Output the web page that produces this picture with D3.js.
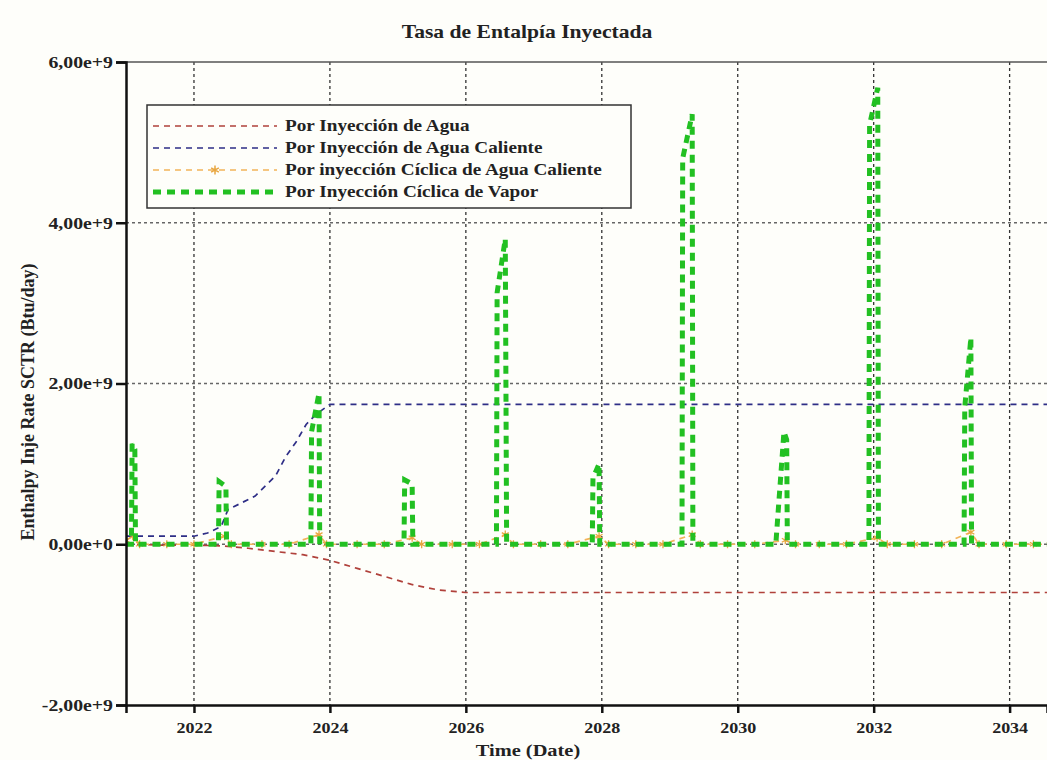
<!DOCTYPE html>
<html>
<head>
<meta charset="utf-8">
<script src="https://cdn.jsdelivr.net/npm/d3@7"></script>
<style>
  body { margin: 0; background: #fefefa; }
  svg { display: block; }
  text { font-family: "Liberation Serif", "Times New Roman", serif; font-weight: bold; fill: #222; }
</style>
</head>
<body>
<div id="chart"></div>
<script>
// SVG wrapper dimensions
var svgWidth = 1047;
var svgHeight = 760;

var margin = { top: 62, right: 0, bottom: 55, left: 126 };
var width = svgWidth - margin.left - margin.right;
var height = svgHeight - margin.top - margin.bottom;

// horizontal stretch of the text in the reference
var sx = 1.2;

// tick labels
var yTicks = [-2e9, 0, 2e9, 4e9, 6e9];
var yTickLabels = ["-2,00e+9", "0,00e+0", "2,00e+9", "4,00e+9", "6,00e+9"];
var xTicks = [2022, 2024, 2026, 2028, 2030, 2032, 2034];

// series: [decimal year, value in 1e9 Btu/day]
var agua = [[2021.0, 0], [2021.5, -0.01], [2022.0, -0.01], [2022.4, -0.02], [2022.8, -0.05],
  [2023.2, -0.09], [2023.6, -0.13], [2024.0, -0.2], [2024.4, -0.3], [2024.8, -0.4],
  [2025.2, -0.5], [2025.6, -0.57], [2026.0, -0.6], [2027.0, -0.6], [2034.6, -0.6]];

var aguaCaliente = [[2021.0, 0.1], [2022.0, 0.1], [2022.2, 0.14], [2022.4, 0.22], [2022.5, 0.43],
  [2022.9, 0.6], [2023.2, 0.85], [2023.35, 1.09], [2023.5, 1.27], [2023.65, 1.49],
  [2023.8, 1.62], [2024.0, 1.74], [2025.0, 1.74], [2034.6, 1.74]];

var ciclicaAgua = [[2021.0, 0.05], [2021.1, 0.1], [2021.2, 0], [2021.6, 0], [2022.0, 0], [2022.45, 0.1],
  [2022.55, 0], [2023.0, 0], [2023.4, 0], [2023.84, 0.12], [2023.95, 0], [2024.4, 0], [2024.8, 0],
  [2025.21, 0.08], [2025.35, 0], [2025.8, 0], [2026.2, 0], [2026.58, 0.12], [2026.7, 0],
  [2027.1, 0], [2027.5, 0], [2027.96, 0.1], [2028.1, 0], [2028.5, 0], [2028.9, 0], [2029.33, 0.12],
  [2029.45, 0], [2029.85, 0], [2030.25, 0], [2030.7, 0.05], [2030.85, 0], [2031.2, 0],
  [2031.6, 0], [2032.05, 0.08], [2032.2, 0], [2032.6, 0], [2033.0, 0], [2033.43, 0.15],
  [2033.55, 0], [2033.95, 0], [2034.35, 0], [2034.6, 0]];

var ciclicaVapor = [[2021.0, 0], [2021.08, 0], [2021.09, 1.25], [2021.13, 1.18], [2021.14, 0],
  [2022.36, 0], [2022.37, 0.78], [2022.47, 0.72], [2022.48, 0],
  [2023.72, 0], [2023.73, 1.4], [2023.84, 1.88], [2023.85, 0],
  [2025.09, 0], [2025.1, 0.8], [2025.21, 0.75], [2025.22, 0],
  [2026.45, 0], [2026.46, 3.13], [2026.58, 3.8], [2026.6, 0],
  [2027.86, 0], [2027.87, 0.82], [2027.96, 1.0], [2027.97, 0],
  [2029.18, 0], [2029.19, 4.8], [2029.33, 5.35], [2029.34, 0],
  [2030.56, 0], [2030.68, 1.4], [2030.72, 1.3], [2030.73, 0],
  [2031.93, 0], [2031.94, 5.22], [2032.06, 5.68], [2032.07, 0],
  [2033.33, 0], [2033.34, 1.7], [2033.43, 2.57], [2033.44, 0],
  [2034.6, 0]];

var series = [
  { name: "Por Inyección de Agua", data: agua, color: "#b0413b", width: 1.7, dash: "6,5", star: false },
  { name: "Por Inyección de Agua Caliente", data: aguaCaliente, color: "#2e2e86", width: 1.7, dash: "6,5", star: false },
  { name: "Por inyección Cíclica de Agua Caliente", data: ciclicaAgua, color: "#f2b45a", width: 1.7, dash: "6,5", star: true },
  { name: "Por Inyección Cíclica de Vapor", data: ciclicaVapor, color: "#22c022", width: 5, dash: "8,6", star: false }
];

// append svg and group
var svg = d3.select("#chart")
  .append("svg")
  .attr("width", svgWidth)
  .attr("height", svgHeight);

svg.append("rect").attr("width", svgWidth).attr("height", svgHeight).attr("fill", "#fefefa");

var chartGroup = svg.append("g")
  .attr("transform", `translate(${margin.left}, ${margin.top})`);

var xScale = d3.scaleLinear()
  .domain([2021.0, 2034.55])
  .range([0, width]);

var yScale = d3.scaleLinear()
  .domain([-2e9, 6e9])
  .range([height, 0]);

// grid lines
chartGroup.selectAll(".vgrid")
  .data(xTicks)
  .enter()
  .append("line")
  .attr("x1", d => xScale(d))
  .attr("x2", d => xScale(d))
  .attr("y1", 0)
  .attr("y2", height)
  .attr("stroke", "#333")
  .attr("stroke-width", 1.3)
  .attr("stroke-dasharray", "3,3");

chartGroup.selectAll(".hgrid")
  .data(yTicks.filter(d => d > -2e9 && d < 6e9))
  .enter()
  .append("line")
  .attr("x1", 0)
  .attr("x2", width)
  .attr("y1", d => yScale(d))
  .attr("y2", d => yScale(d))
  .attr("stroke", "#666")
  .attr("stroke-width", 1.3)
  .attr("stroke-dasharray", "3,3");

// top border
chartGroup.append("line")
  .attr("x1", 0).attr("x2", width)
  .attr("y1", 0).attr("y2", 0)
  .attr("stroke", "#555")
  .attr("stroke-width", 1.5);

// series lines
var line = d3.line()
  .x(d => xScale(d[0]))
  .y(d => yScale(d[1] * 1e9));

svg.append("clipPath").attr("id", "plotclip")
  .append("rect").attr("x", 0).attr("y", -10).attr("width", width).attr("height", height + 10);

var plot = chartGroup.append("g").attr("clip-path", "url(#plotclip)");

series.forEach(function(s) {
  plot.append("path")
    .datum(s.data)
    .attr("fill", "none")
    .attr("stroke", s.color)
    .attr("stroke-width", s.width)
    .attr("stroke-dasharray", s.dash)
    .attr("d", line);
  if (s.star) {
    plot.selectAll(null)
      .data(s.data)
      .enter()
      .append("path")
      .attr("transform", d => `translate(${xScale(d[0])}, ${yScale(d[1] * 1e9)})`)
      .attr("d", d3.symbol(d3.symbolAsterisk, 45))
      .attr("fill", "none")
      .attr("stroke", "#e8a640")
      .attr("stroke-width", 1.3);
  }
});

// axes
var leftAxis = d3.axisLeft(yScale)
  .tickValues(yTicks)
  .tickSize(10)
  .tickFormat((d, i) => yTickLabels[i]);

var bottomAxis = d3.axisBottom(xScale)
  .tickValues(xTicks)
  .tickSize(8)
  .tickFormat(d3.format("d"));

var yAxisG = chartGroup.append("g").call(leftAxis);
yAxisG.select(".domain").attr("stroke", "#111").attr("stroke-width", 2.5);
yAxisG.selectAll(".tick line").attr("stroke", "#111").attr("stroke-width", 2.5);
yAxisG.selectAll(".tick text")
  .attr("x", -13 / sx)
  .attr("transform", `scale(${sx},1)`)
  .style("font-size", "16.5px")
  .style("font-family", "Liberation Serif")
  .style("font-weight", "bold")
  .attr("fill", "#222");

var xAxisG = chartGroup.append("g")
  .attr("transform", `translate(0, ${height})`)
  .call(bottomAxis);
xAxisG.select(".domain").attr("stroke", "#111").attr("stroke-width", 2.5);
xAxisG.selectAll(".tick text")
  .attr("y", 17)
  .attr("transform", `scale(${sx},1)`)
  .style("font-size", "15px")
  .style("font-family", "Liberation Serif")
  .style("font-weight", "bold")
  .attr("fill", "#222");
xAxisG.selectAll(".tick line").attr("stroke", "#111").attr("stroke-width", 2.5);

// title
svg.append("text")
  .attr("transform", `translate(527, 38) scale(${sx},1)`)
  .style("text-anchor", "middle")
  .style("font-size", "18px")
  .text("Tasa de Entalpía Inyectada");

// axis labels
svg.append("text")
  .attr("transform", `translate(34, 402) rotate(-90)`)
  .style("text-anchor", "middle")
  .style("font-size", "18px")
  .text("Enthalpy Inje Rate SCTR (Btu/day)");

svg.append("text")
  .attr("transform", `translate(528, 756) scale(${sx},1)`)
  .style("text-anchor", "middle")
  .style("font-size", "17px")
  .text("Time (Date)");

// legend
var legend = svg.append("g").attr("transform", "translate(147, 105)");
legend.append("rect")
  .attr("width", 484)
  .attr("height", 103)
  .attr("fill", "#fefefa")
  .attr("stroke", "#333")
  .attr("stroke-width", 1.5);

series.forEach(function(s, i) {
  var ly = 21 + i * 22;
  legend.append("line")
    .attr("x1", 6).attr("x2", 130)
    .attr("y1", ly).attr("y2", ly)
    .attr("stroke", s.color)
    .attr("stroke-width", s.width)
    .attr("stroke-dasharray", s.dash);
  if (s.star) {
    legend.append("path")
      .attr("transform", `translate(68, ${ly})`)
      .attr("d", d3.symbol(d3.symbolAsterisk, 55))
      .attr("fill", "none")
      .attr("stroke", "#e8a640")
      .attr("stroke-width", 1.5);
  }
  legend.append("text")
    .attr("transform", `translate(138, ${ly + 5}) scale(${sx},1)`)
    .style("font-size", "16px")
    .text(s.name);
});
</script>
</body>
</html>
